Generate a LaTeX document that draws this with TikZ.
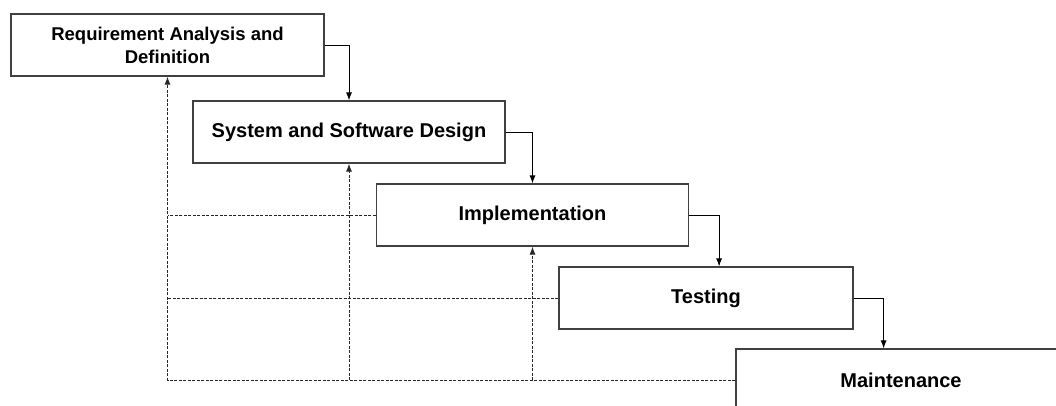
\documentclass[tikz,border=0pt]{standalone}
\usepackage{fontspec}
\setmainfont{Liberation Sans}
\usepackage{tikz}
\usetikzlibrary{arrows.meta}

\begin{document}
\begin{tikzpicture}[x=1pt, y=-1pt, >={Latex[length=8pt,width=6pt]},
    phase/.style={draw=black!75, line width=1.2pt, fill=white, minimum height=62pt,
        inner sep=0pt, align=center, font=\bfseries\fontsize{20}{24}\selectfont},
    flow/.style={->, line width=0.9pt},
    back/.style={->, line width=0.9pt, black!85, dash pattern=on 3pt off 1.5pt}]

    \useasboundingbox (0,0) rectangle (1056,405);
    \clip (0,0) rectangle (1056,405);

    \node[phase, minimum width=313pt, font=\bfseries\fontsize{18.5}{23}\selectfont] (req) at (167.5,45) {Requirement Analysis and\\Definition};
    \node[phase, minimum width=312pt] (design) at (349,132) {System and Software Design};
    \node[phase, minimum width=312pt] (impl) at (532.5,215) {Implementation};
    \node[phase, minimum width=294pt] (test) at (706,298) {Testing};
    \node[phase, minimum width=330pt] (maint) at (901,380) {Maintenance};

    \draw[flow] (req.east) -| (design.north);
    \draw[flow] (design.east) -| (impl.north);
    \draw[flow] (impl.east) -- ++(30,0) coordinate (down3) -- (down3 |- test.north);
    \draw[flow] (test.east) -- ++(30,0) coordinate (down4) -- (down4 |- maint.north);

    \draw[back] (maint.west) -| (req.south);
    \draw[back, -] (test.west) -- (test.west -| req.south);
    \draw[back, -] (impl.west) -- (impl.west -| req.south);
    \draw[back] (maint.west -| design.south) -- (design.south);
    \draw[back] (maint.west -| impl.south) -- (impl.south);

\end{tikzpicture}
\end{document}
